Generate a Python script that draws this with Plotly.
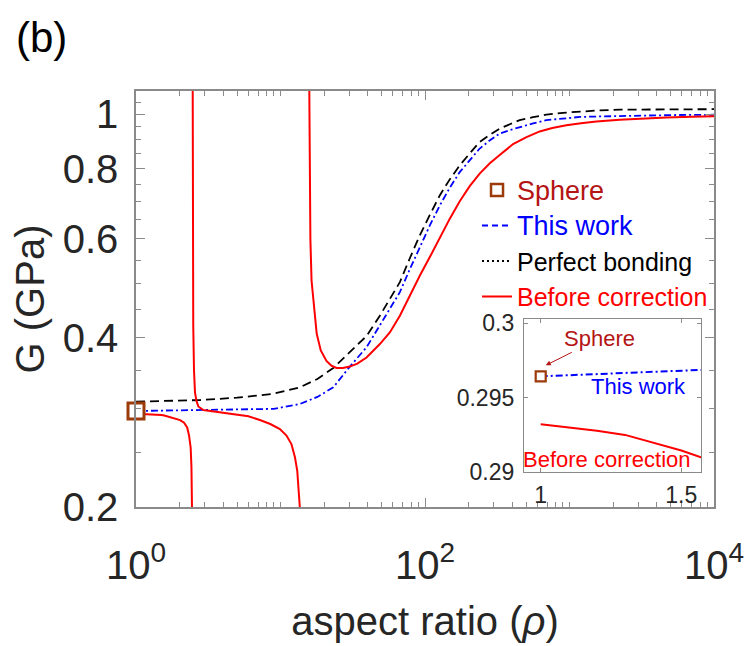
import plotly.graph_objects as go

# ---------------- data ----------------
sphere_x = [1.0]
sphere_g = [0.29644]

# "This work" (blue dash-dot)
work_x = [1, 1.1, 1.2, 1.3, 1.4, 1.5, 1.57, 2, 3, 5, 9, 13.6, 18, 23.2, 30.2, 39.4, 48.7, 57, 67,
          78, 92, 108, 126.5, 148, 174, 205, 239, 280, 329, 390, 452, 560, 692, 900, 1177, 1600,
          2225, 3500, 5500, 10000]
work_g = [0.29644, 0.29652, 0.2966, 0.29668, 0.29676, 0.29684, 0.29689, 0.2972, 0.2978, 0.2985,
          0.299, 0.305, 0.314, 0.3266, 0.3556, 0.3848, 0.4205, 0.45, 0.4823, 0.528, 0.580, 0.634,
          0.688, 0.739, 0.789, 0.831, 0.869, 0.898, 0.924, 0.938, 0.949, 0.963, 0.976, 0.983,
          0.989, 0.991, 0.993, 0.995, 0.997, 0.998]

# "Perfect bonding" (black dashed)
perfect_x = [1, 2.77, 5, 8.9, 13.6, 18, 23.2, 30, 39.4, 48.7, 57, 67, 78, 92, 108, 126.5, 148,
             174, 205, 239, 280, 329, 390, 452, 560, 692, 900, 1177, 1600, 2225, 3500, 5500, 10000]
perfect_g = [0.308, 0.310, 0.313, 0.318, 0.3266, 0.338, 0.3535, 0.376, 0.403, 0.438, 0.468,
             0.5026, 0.552, 0.6085, 0.662, 0.717, 0.765, 0.811, 0.853, 0.893, 0.919, 0.943, 0.961,
             0.976, 0.988, 0.9986, 1.006, 1.012, 1.016, 1.019, 1.020, 1.021, 1.021]

# "Before correction" (red solid) - three branches separated by singularities
before_a_x = [1, 1.1, 1.2, 1.3, 1.4, 1.5, 1.57, 1.85, 2.02, 2.15, 2.26, 2.33, 2.39, 2.42, 2.44]
before_a_g = [0.29322, 0.2930, 0.29278, 0.2925, 0.2920, 0.29145, 0.2910, 0.2878, 0.2856, 0.2825,
              0.277, 0.268, 0.255, 0.235, 0.2]
before_b_x = [2.465, 2.47, 2.48, 2.49, 2.52, 2.56, 2.62, 2.7, 2.92, 3.5, 4.71, 6.0, 7.2, 8.5, 9.9,
              11.0, 11.9, 12.6, 13.06, 13.4, 13.6]
before_b_g = [1.3, 0.9, 0.6, 0.42, 0.35, 0.32, 0.309, 0.302, 0.2976, 0.2955, 0.2927, 0.290,
              0.2856, 0.281, 0.2753, 0.268, 0.2588, 0.245, 0.232, 0.215, 0.2]
before_c_x = [15.75, 15.85, 15.95, 16.1, 16.4, 17.0, 17.8, 19, 20.8, 22.5, 24.4, 27, 30.2, 34,
              39.4, 48.7, 57.1, 67, 78.5, 92, 108, 126.5, 148.5, 174, 204, 239, 281, 329, 407,
              500, 622, 760, 952, 1200, 1535, 2225, 3200, 4677, 7000, 10000]
before_c_g = [1.3, 0.9, 0.7, 0.6, 0.506, 0.458, 0.407, 0.38, 0.364, 0.357, 0.3535, 0.3535,
              0.3556, 0.360, 0.369, 0.39, 0.409, 0.438, 0.476, 0.516, 0.557, 0.603, 0.652, 0.70,
              0.745, 0.784, 0.818, 0.846, 0.885, 0.91, 0.932, 0.945, 0.956, 0.964, 0.971, 0.978,
              0.983, 0.987, 0.990, 0.9915]

x_tickvals = [1, 100, 10000]
x_ticktext = ["10<sup>0</sup>", "10<sup>2</sup>", "10<sup>4</sup>"]
x_minor = [2, 3, 4, 5, 6, 7, 8, 9, 10, 20, 30, 40, 50, 60, 70, 80, 90, 1000,
           200, 300, 400, 500, 600, 700, 800, 900, 2000, 3000, 4000, 5000, 6000, 7000, 8000, 9000]
y_tickvals = [0.2, 0.4, 0.6, 0.8, 1]
y_ticktext = ["0.2", "0.4", "0.6", "0.8", "1"]
y_minor = [0.25, 0.3, 0.35, 0.45, 0.5, 0.55, 0.65, 0.7, 0.75, 0.85, 0.9, 0.95, 1.05]

inset_x_tickvals = [1, 1.5]
inset_x_ticktext = ["1", "1.5"]
inset_y_tickvals = [0.29, 0.295, 0.3]
inset_y_ticktext = ["0.29", "0.295", "0.3"]

# ---------------- styles ----------------
FONT = "Liberation Sans, Arial, Helvetica, sans-serif"
RED = "#FF0000"
BLUE = "#0000FF"
BLACK = "#000000"
BROWN = "#9C3A0A"
DARKRED = "#B41414"
AXCOL = "#8A8A8A"
TXT = "#262626"

before_x = before_a_x + [None] + before_b_x + [None] + before_c_x
before_g = before_a_g + [None] + before_b_g + [None] + before_c_g

fig = go.Figure()

# main plot curves
fig.add_trace(go.Scatter(x=perfect_x, y=perfect_g, mode="lines", showlegend=False,
                         line=dict(color=BLACK, width=1.8, dash="9px,5px")))
fig.add_trace(go.Scatter(x=work_x, y=work_g, mode="lines", showlegend=False,
                         line=dict(color=BLUE, width=1.8, dash="7px,3px,2px,3px")))
fig.add_trace(go.Scatter(x=before_x, y=before_g, mode="lines", showlegend=False, connectgaps=False,
                         line=dict(color=RED, width=2)))
fig.add_trace(go.Scatter(x=sphere_x, y=sphere_g, mode="markers", showlegend=False, cliponaxis=False,
                         marker=dict(symbol="square", size=16, color="white",
                                     line=dict(color=BROWN, width=3))))

# legend entries (styled as in the reference legend)
fig.add_trace(go.Scatter(x=[None], y=[None], mode="markers",
                         name='<span style="color:%s;font-size:27px">Sphere</span>' % DARKRED,
                         marker=dict(symbol="square", size=12, color="white",
                                     line=dict(color=BROWN, width=2.5))))
fig.add_trace(go.Scatter(x=[None], y=[None], mode="lines",
                         name='<span style="color:%s;font-size:27px">This work</span>' % BLUE,
                         line=dict(color=BLUE, width=2, dash="6px,4px")))
fig.add_trace(go.Scatter(x=[None], y=[None], mode="lines",
                         name='<span style="color:%s">Perfect bonding</span>' % BLACK,
                         line=dict(color=BLACK, width=2, dash="2px,3px")))
fig.add_trace(go.Scatter(x=[None], y=[None], mode="lines",
                         name='<span style="color:%s">Before correction</span>' % RED,
                         line=dict(color=RED, width=2)))

# inset curves
fig.add_trace(go.Scatter(x=work_x, y=work_g, mode="lines", showlegend=False, xaxis="x2", yaxis="y2",
                         line=dict(color=BLUE, width=2, dash="7px,3px,2px,3px")))
fig.add_trace(go.Scatter(x=before_a_x, y=before_a_g, mode="lines", showlegend=False,
                         xaxis="x2", yaxis="y2", line=dict(color=RED, width=2)))
fig.add_trace(go.Scatter(x=sphere_x, y=sphere_g, mode="markers", showlegend=False,
                         xaxis="x2", yaxis="y2", cliponaxis=False,
                         marker=dict(symbol="square", size=10, color="white",
                                     line=dict(color=BROWN, width=2.2))))

fig.update_layout(
    width=751, height=646,
    margin=dict(l=136, r=37, t=91, b=139, autoexpand=False),
    paper_bgcolor="white", plot_bgcolor="white",
    font=dict(family=FONT, color=TXT),
    showlegend=True,
    legend=dict(x=0.590, y=0.817, xanchor="left", yanchor="top",
                bgcolor="rgba(0,0,0,0)", borderwidth=0,
                font=dict(family=FONT, size=25, color=BLACK),
                tracegroupgap=0, itemwidth=30),
    xaxis=dict(type="log", range=[0, 4], showgrid=False, zeroline=False, automargin=False,
               showline=True, linecolor=AXCOL, linewidth=1.5, mirror="ticks",
               ticks="inside", ticklen=9, tickwidth=1, tickcolor=AXCOL,
               tickmode="array", tickvals=x_tickvals, ticktext=x_ticktext,
               tickfont=dict(size=40, color=TXT, family=FONT), ticklabelstandoff=22,
               minor=dict(ticks="inside", ticklen=5, tickwidth=1, tickcolor=AXCOL,
                          tickmode="array", tickvals=x_minor, showgrid=False),
               title=dict(text="aspect ratio (<i>ρ</i>)", font=dict(size=40, color=TXT, family=FONT),
                          standoff=21)),
    yaxis=dict(type="log", range=[-0.69897, 0.0414], showgrid=False, zeroline=False,
               automargin=False,
               showline=True, linecolor=AXCOL, linewidth=1.5, mirror="ticks",
               ticks="inside", ticklen=9, tickwidth=1, tickcolor=AXCOL,
               tickmode="array", tickvals=y_tickvals, ticktext=y_ticktext,
               tickfont=dict(size=40, color=TXT, family=FONT), ticklabelstandoff=8,
               minor=dict(ticks="inside", ticklen=5, tickwidth=1, tickcolor=AXCOL,
                          tickmode="array", tickvals=y_minor, showgrid=False),
               title=dict(text="G (GPa)", font=dict(size=40, color=TXT, family=FONT), standoff=6)),
    xaxis2=dict(domain=[0.671, 0.9775], anchor="y2", range=[0.94, 1.57], showgrid=False,
                zeroline=False, showline=True, linecolor=AXCOL, linewidth=1, mirror="ticks",
                automargin=False, ticks="inside", ticklen=4, tickcolor=AXCOL,
                tickmode="array", tickvals=inset_x_tickvals, ticktext=inset_x_ticktext,
                tickfont=dict(size=23, color=TXT, family=FONT), ticklabelstandoff=2),
    yaxis2=dict(domain=[0.084, 0.452], anchor="x2", range=[0.29, 0.3003], showgrid=False,
                zeroline=False, showline=True, linecolor=AXCOL, linewidth=1, mirror="ticks",
                automargin=False, ticks="inside", ticklen=4, tickcolor=AXCOL,
                tickmode="array", tickvals=inset_y_tickvals, ticktext=inset_y_ticktext,
                tickfont=dict(size=23, color=TXT, family=FONT), ticklabelstandoff=4),
    annotations=[
        dict(text="(b)", xref="paper", yref="paper", x=-0.163, y=1.128, xanchor="center",
             yanchor="middle", showarrow=False, font=dict(size=42, color=BLACK, family=FONT)),
        dict(text="Sphere", xref="x2", yref="y2", x=1.018, y=0.29718, ax=54, ay=-27,
             showarrow=True, arrowhead=2, arrowsize=1, arrowwidth=1, arrowcolor=DARKRED,
             font=dict(size=22, color=DARKRED, family=FONT)),
        dict(text="This work", xref="x2", yref="y2", x=1.346, y=0.29577, showarrow=False,
             font=dict(size=22, color=BLUE, family=FONT)),
        dict(text="Before correction", xref="x2", yref="y2", x=1.236, y=0.29087, showarrow=False,
             font=dict(size=22, color=RED, family=FONT)),
    ],
)

fig.write_html("out.html")
